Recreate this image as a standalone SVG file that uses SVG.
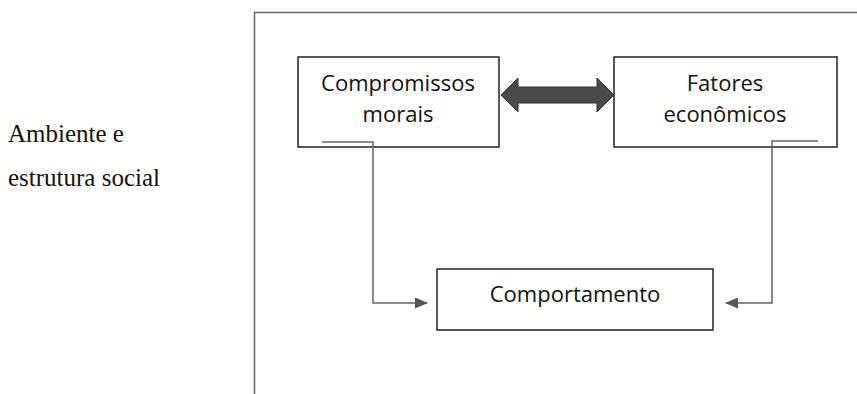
<svg xmlns="http://www.w3.org/2000/svg" width="857" height="394" viewBox="0 0 857 394">
<defs>
<style>
.box{fill:#fff;stroke:#222;stroke-width:1.5}
.t{font-family:"Open Sans","Noto Sans",sans-serif;font-size:22px;fill:#111;text-anchor:middle}
.s{font-family:"Liberation Serif",serif;font-size:25px;fill:#111}
.c{fill:none;stroke:#666;stroke-width:1.5}
</style>
<marker id="ah" markerWidth="13" markerHeight="11" refX="12" refY="5.5" orient="auto" markerUnits="userSpaceOnUse">
<path d="M0,0 L13,5.5 L0,11 z" fill="#555"/>
</marker>
</defs>
<rect width="857" height="394" fill="#fff"/>
<path d="M254.5,400 V12.5 H860" fill="none" stroke="#666" stroke-width="1.5"/>
<g id="label-left">
<text class="s" x="8" y="142">Ambiente e</text>
<text class="s" x="8" y="186">estrutura social</text>
</g>
<g id="n-compromissos">
<rect class="box" x="298" y="57" width="201" height="90"/>
<text class="t" x="398" y="91">Compromissos</text>
<text class="t" x="398" y="122">morais</text>
</g>
<g id="n-fatores">
<rect class="box" x="614" y="57" width="223" height="90"/>
<text class="t" x="725" y="91">Fatores</text>
<text class="t" x="725" y="122">econômicos</text>
</g>
<g id="n-comportamento">
<rect class="box" x="437" y="269" width="276" height="61"/>
<text class="t" x="575" y="302">Comportamento</text>
</g>
<g id="connectors">
<path d="M501,95 L518,78 L518,87 L597,87 L597,78 L614,95 L597,112 L597,103 L518,103 L518,112 Z" fill="#4a4a4a" stroke="#333" stroke-width="1"/>
<path class="c" d="M322,142 H373 V303 H427" marker-end="url(#ah)"/>
<path class="c" d="M818,141 H772 V303 H726" marker-end="url(#ah)"/>
</g>
</svg>
